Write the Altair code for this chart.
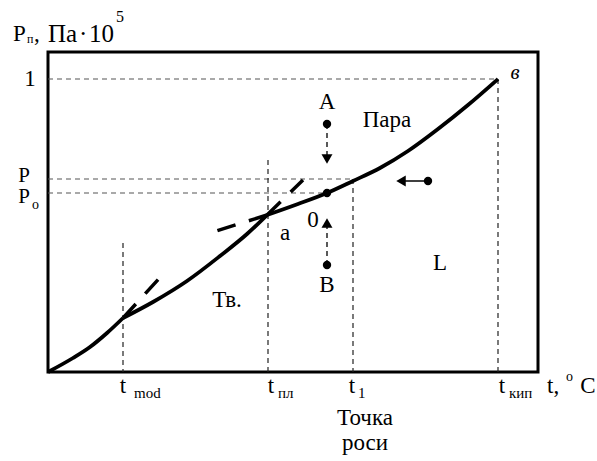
import altair as alt
import pandas as pd

# ---- curve data (t units, P units; arbitrary scale of the sketch) ----
curve_seg = ["s1"] * 5 + ["s2"] * 6 + ["s3"] * 9
curve_t = [0, 25, 42, 59, 75,
           75, 105, 139, 172, 199, 219,
           219, 250, 279, 305, 332, 360, 390, 420, 450]
curve_p = [0, 14, 25, 39, 54,
           54, 70, 91, 116, 138, 157,
           157, 168, 179, 191, 204, 221, 243, 267, 293]

# thin dashed guide lines (t, p) -> (t2, p2)
guide_t = [0, 0, 0, 75, 220, 305, 450]
guide_p = [293, 193, 179, 129, 212, 193, 293]
guide_t2 = [450, 305, 279, 75, 220, 305, 450]
guide_p2 = [293, 193, 179, 0, 0, 0, 0]
guide_kind = ["h", "h", "h", "v", "v", "v", "v"]

# thick dashed extensions (metastable branches)
ext_t = [75, 219, 219]
ext_p = [54, 157, 157]
ext_t2 = [117, 162, 255]
ext_p2 = [100, 139, 192]

# state points and arrows
dot_t = [279, 279, 279, 380]
dot_p = [248, 107, 179, 191]
arrow_t = [279, 279, 380]
arrow_p = [248, 107, 191]
arrow_t2 = [279, 279, 352]
arrow_p2 = [213, 150, 191]
arrow_dash = ["d", "d", "s"]
head_t = [279, 279, 353]
head_p = [213, 149, 191]
head_shape = ["triangle-down", "triangle-up", "triangle-left"]

# labels (centered)
lab_text = ["A", "B", "0", "a", "Пара", "L", "Тв.", "1", "P", "P",
            "t", "t", "t", "t", "Точка", "роси", "C"]
lab_t = [279, 279, 265, 237, 339, 392, 179, -18, -24, -24,
         75, 223, 304, 454, 317, 317, 540]
lab_p = [270, 87, 152, 139, 252, 109, 72, 293, 196, 175,
         -14, -14, -14, -14, -46, -71, -14]
lab_size = [23, 23, 23, 23, 23, 23, 23, 23, 21, 21,
            23, 23, 23, 23, 23, 23, 23]

# small sub/superscripts (left aligned)
sub_text = ["o", "mod", "пл", "1", "кип", "п", "o", "5"]
sub_t = [-16, 86, 230, 310, 461, -21, 518, 68]
sub_p = [167, -21, -21, -21, -21, 333, -5, 355]
sub_size = [14, 15, 15, 15, 15, 12, 14, 16]

# left-aligned title pieces
title_text = ["P", ",", "Па", "·", "10", "t,"]
title_t = [-35, -14, 0, 31, 41, 499]
title_p = [338, 338, 338, 338, 338, -14]
title_size = [23, 23, 25, 25, 25, 23]

curve = pd.DataFrame({"seg": curve_seg, "t": curve_t, "p": curve_p})
guides = pd.DataFrame({"t": guide_t, "p": guide_p, "t2": guide_t2, "p2": guide_p2, "k": guide_kind})
ext = pd.DataFrame({"t": ext_t, "p": ext_p, "t2": ext_t2, "p2": ext_p2})
dots = pd.DataFrame({"t": dot_t, "p": dot_p})
arrows = pd.DataFrame({"t": arrow_t, "p": arrow_p, "t2": arrow_t2, "p2": arrow_p2, "d": arrow_dash})
heads = pd.DataFrame({"t": head_t, "p": head_p, "shape": head_shape})
labs = pd.DataFrame({"t": lab_t, "p": lab_p, "text": lab_text, "s": lab_size})
subs = pd.DataFrame({"t": sub_t, "p": sub_p, "text": sub_text, "s": sub_size})
titles = pd.DataFrame({"t": title_t, "p": title_p, "text": title_text, "s": title_size})
vlab = pd.DataFrame({"t": [467], "p": [299], "text": ["в"]})

xs = alt.Scale(domain=[0, 490], nice=False, zero=False)
ys = alt.Scale(domain=[0, 320], nice=False, zero=False)
X = lambda f="t": alt.X(f"{f}:Q", scale=xs, axis=None)
Y = lambda f="p": alt.Y(f"{f}:Q", scale=ys, axis=None)
FONT = "Liberation Serif"

guide_h = alt.Chart(guides).transform_filter("datum.k == 'h'").mark_rule(
    color="#555", strokeWidth=1.2, strokeDash=[5, 4]
).encode(x=X(), y=Y(), x2="t2:Q", y2="p2:Q")
guide_v = alt.Chart(guides).transform_filter("datum.k == 'v'").mark_rule(
    color="#222", strokeWidth=1.2, strokeDash=[5, 4]
).encode(x=X(), y=Y(), x2="t2:Q", y2="p2:Q")

ext_l = alt.Chart(ext).mark_rule(color="black", strokeWidth=3.5, strokeDash=[19, 14]).encode(
    x=X(), y=Y(), x2="t2:Q", y2="p2:Q")

curve_l = alt.Chart(curve).mark_line(color="black", strokeWidth=3.8, interpolate="monotone").encode(
    x=X(), y=Y(), detail="seg:N")

arr_d = alt.Chart(arrows).transform_filter("datum.d == 'd'").mark_rule(
    color="black", strokeWidth=1.3, strokeDash=[5, 4]).encode(x=X(), y=Y(), x2="t2:Q", y2="p2:Q")
arr_s = alt.Chart(arrows).transform_filter("datum.d == 's'").mark_rule(
    color="black", strokeWidth=1.5).encode(x=X(), y=Y(), x2="t2:Q", y2="p2:Q")
head_l = alt.Chart(heads).mark_point(filled=True, color="black", size=120, opacity=1).encode(
    x=X(), y=Y(), shape=alt.Shape("shape:N", scale=None))
dot_l = alt.Chart(dots).mark_circle(color="black", size=70, opacity=1).encode(x=X(), y=Y())

lab_l = alt.Chart(labs).mark_text(font=FONT, color="black", align="center", baseline="middle").encode(
    x=X(), y=Y(), text="text:N", size=alt.Size("s:Q", scale=None))
sub_l = alt.Chart(subs).mark_text(font=FONT, color="black", align="left", baseline="middle").encode(
    x=X(), y=Y(), text="text:N", size=alt.Size("s:Q", scale=None))
title_l = alt.Chart(titles).mark_text(font=FONT, color="black", align="left", baseline="middle").encode(
    x=X(), y=Y(), text="text:N", size=alt.Size("s:Q", scale=None))
v_l = alt.Chart(vlab).mark_text(font=FONT, fontSize=21, fontStyle="italic", color="black", align="center", baseline="middle").encode(
    x=X(), y=Y(), text="text:N")

chart = alt.layer(guide_h, guide_v, ext_l, curve_l, arr_d, arr_s, head_l, dot_l, lab_l, sub_l, title_l, v_l).properties(
    width=490, height=320,
    padding={"left": 48, "top": 52, "right": 59, "bottom": 89},
    autosize=alt.AutoSizeParams(type="none"),
    background="white",
).configure_view(stroke="black", strokeWidth=3)

chart.save("out.html", embed_options={"renderer": "svg", "actions": False})
